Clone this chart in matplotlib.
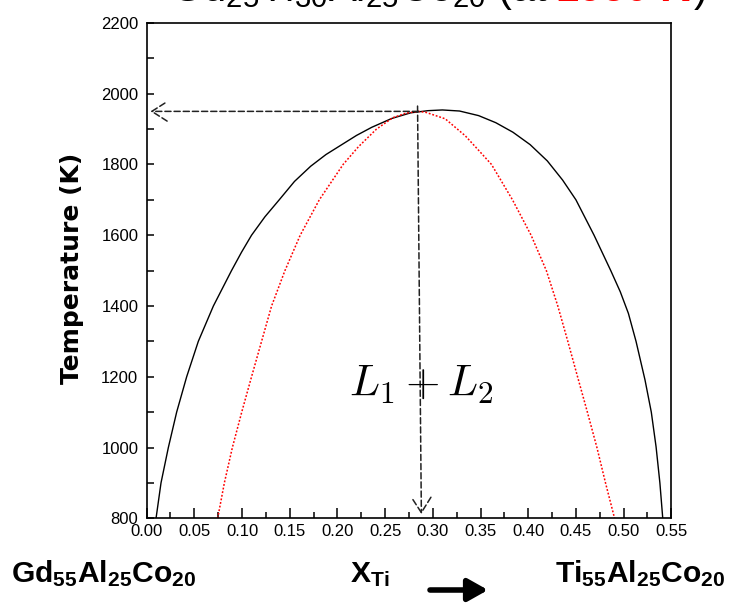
import numpy as np
import matplotlib
matplotlib.use('Agg')
import matplotlib.pyplot as plt
from matplotlib.ticker import MultipleLocator, FormatStrFormatter

plt.rcParams['mathtext.fontset'] = 'custom'
plt.rcParams['mathtext.rm'] = 'Liberation Sans'
plt.rcParams['mathtext.it'] = 'Liberation Sans:italic'
plt.rcParams['mathtext.bf'] = 'Liberation Sans:bold'

# binodal (black solid)
binodal_x = [0.0099, 0.0151, 0.0228, 0.0315, 0.042, 0.0542, 0.070, 0.089, 0.0995,
             0.110, 0.124, 0.139, 0.155, 0.172, 0.188, 0.204, 0.220, 0.236, 0.257,
             0.277, 0.295, 0.310, 0.328, 0.348, 0.366, 0.384, 0.402, 0.420, 0.436,
             0.450, 0.469, 0.4865, 0.4965, 0.505, 0.513, 0.5224, 0.529, 0.534,
             0.538, 0.541]
binodal_T = [800, 900, 1000, 1100, 1200, 1300, 1400, 1500, 1552,
             1600, 1652, 1700, 1752, 1795, 1828, 1855, 1882, 1905, 1930,
             1946, 1952, 1954, 1951, 1938, 1918, 1891, 1856, 1810, 1756,
             1700, 1600, 1500, 1440, 1379, 1300, 1191, 1100, 1002,
             900, 800]

# spinodal (red dotted)
spinodal_x = [0.0745, 0.0815, 0.0899, 0.0997, 0.110, 0.1205, 0.131, 0.145, 0.161,
              0.181, 0.206, 0.222, 0.241, 0.258, 0.272, 0.285, 0.293, 0.313, 0.334,
              0.348, 0.3615, 0.3835, 0.403, 0.419, 0.431, 0.4415, 0.4517, 0.462,
              0.472, 0.481, 0.4905]
spinodal_T = [800, 900, 1000, 1100, 1200, 1300, 1400, 1500, 1600,
              1700, 1800, 1850, 1900, 1932, 1945, 1950, 1947, 1929, 1881,
              1840, 1800, 1700, 1600, 1500, 1400, 1300, 1200, 1100,
              1000, 900, 800]

x_crit = 0.285   # composition marked by the vertical arrow
T_crit = 1950    # temperature marked by the horizontal arrow

fig = plt.figure(figsize=(7.29, 6.03), dpi=100)
ax = fig.add_axes([0.2011, 0.1405, 0.7198, 0.8215])

ax.plot(binodal_x, binodal_T, color='black', lw=1.0)
ax.plot(spinodal_x, spinodal_T, color='red', lw=1.1, linestyle=(0, (1.2, 1.2)))

dash = dict(color='#222222', lw=1.1, linestyle=(0, (4, 2)),
            shrinkA=0, shrinkB=0, mutation_scale=20,
            arrowstyle='->,head_length=0.55,head_width=0.35')
ax.annotate('', xy=(0.004, T_crit), xytext=(x_crit, T_crit), arrowprops=dash)
ax.annotate('', xy=(x_crit + 0.003, 812), xytext=(x_crit - 0.001, 1965), arrowprops=dash)

ax.text(0.288, 1143, r'$L_1 + L_2$', fontsize=32, ha='center', va='baseline',
        math_fontfamily='cm')

ax.set_xlim(0, 0.55)
ax.set_ylim(800, 2200)
ax.xaxis.set_major_locator(MultipleLocator(0.05))
ax.xaxis.set_minor_locator(MultipleLocator(0.025))
ax.xaxis.set_major_formatter(FormatStrFormatter('%.2f'))
ax.yaxis.set_major_locator(MultipleLocator(200))
ax.yaxis.set_minor_locator(MultipleLocator(100))
ax.tick_params(axis='both', which='both', direction='in', width=1.1,
               labelsize=12, top=False, right=False)
ax.tick_params(axis='x', which='major', length=7, pad=4)
ax.tick_params(axis='x', which='minor', length=4)
ax.tick_params(axis='y', which='both', length=5, pad=6)
for lab in ax.get_xticklabels() + ax.get_yticklabels():
    lab.set_fontfamily('Liberation Sans')
for s in ax.spines.values():
    s.set_linewidth(1.2)

fig.text(72 / 729, 1 - 268 / 603, 'Temperature (K)', rotation=90, ha='center',
         va='center', fontsize=18, fontweight='bold', family='DejaVu Sans')

# title, cut off at the top edge as in the original
ty = 1 - 1 / 603
fig.text(170 / 729, ty,
         r'Gd$_{\mathrm{25}}$Ti$_{\mathrm{30}}$Al$_{\mathrm{25}}$Co$_{\mathrm{20}}$ (at ',
         fontsize=30, family='Liberation Sans', va='baseline')
fig.text(556 / 729, ty, '1950 K', fontsize=30, family='Liberation Sans',
         fontweight='bold', color='red', va='baseline')
fig.text(694 / 729, ty, ')', fontsize=30, family='Liberation Sans', va='baseline')

# composition labels under the axis
by = 1 - 582 / 603
fig.text(11 / 729, by, r'Gd$_{\mathbf{55}}$Al$_{\mathbf{25}}$Co$_{\mathbf{20}}$',
         fontsize=21.6, fontweight='bold', family='Liberation Sans', va='baseline')
fig.text(350 / 729, by, r'X$_{\mathbf{Ti}}$',
         fontsize=21.6, fontweight='bold', family='Liberation Sans', va='baseline')
fig.text(555 / 729, by, r'Ti$_{\mathbf{55}}$Al$_{\mathbf{25}}$Co$_{\mathbf{20}}$',
         fontsize=21.6, fontweight='bold', family='Liberation Sans', va='baseline')
ax.annotate('', xy=(488, 13), xytext=(430, 13), xycoords='figure pixels',
            textcoords='figure pixels', annotation_clip=False,
            arrowprops=dict(arrowstyle='-|>,head_length=0.8,head_width=0.45',
                            lw=4, color='black', mutation_scale=15,
                            shrinkA=0, shrinkB=0))

fig.savefig('out.png', dpi=100)
